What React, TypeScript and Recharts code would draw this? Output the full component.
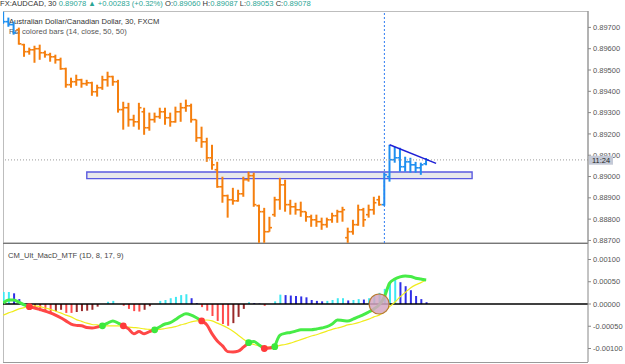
import React from 'react';
import {
  ComposedChart,
  Bar,
  Line,
  XAxis,
  YAxis,
  ReferenceLine,
  ReferenceArea,
  ReferenceDot,
  Cell,
} from 'recharts';

// ---------- DATA ----------
const opens = [
  0.89764, 0.89727, 0.89713, 0.89689, 0.89619, 0.89586, 0.89595, 0.89600, 0.89581, 0.89572,
  0.89562, 0.89548, 0.89506, 0.89431, 0.89445, 0.89454, 0.89436, 0.89440, 0.89398, 0.89417,
  0.89454, 0.89469, 0.89445, 0.89314, 0.89323, 0.89267, 0.89257, 0.89304, 0.89229, 0.89267,
  0.89281, 0.89304, 0.89276, 0.89257, 0.89304, 0.89323, 0.89332, 0.89267, 0.89182, 0.89163,
  0.89088, 0.89032, 0.88952, 0.88910, 0.88891, 0.88886, 0.88919, 0.88985, 0.89004, 0.88863,
  0.88835, 0.88741, 0.88821, 0.88891, 0.88961, 0.88868, 0.88858, 0.88844, 0.88835, 0.88811,
  0.88797, 0.88788, 0.88774, 0.88797, 0.88816, 0.88835, 0.88713, 0.88741, 0.88774, 0.88844,
  0.88821, 0.88844, 0.88891, 0.88868, 0.88999, 0.89079, 0.89088, 0.89046, 0.89069, 0.89055,
  0.89041, 0.89060,
];
const highs = [
  0.89774, 0.89746, 0.89727, 0.89699, 0.89623, 0.89605, 0.89614, 0.89619, 0.89591, 0.89581,
  0.89572, 0.89558, 0.89511, 0.89464, 0.89478, 0.89459, 0.89454, 0.89445, 0.89431, 0.89473,
  0.89492, 0.89473, 0.89454, 0.89351, 0.89346, 0.89290, 0.89346, 0.89323, 0.89300, 0.89300,
  0.89323, 0.89323, 0.89300, 0.89328, 0.89346, 0.89361, 0.89342, 0.89267, 0.89234, 0.89182,
  0.89149, 0.89069, 0.88999, 0.88915, 0.88947, 0.88938, 0.88999, 0.89023, 0.89018, 0.88868,
  0.88853, 0.88811, 0.88905, 0.88994, 0.88985, 0.88891, 0.88877, 0.88882, 0.88835, 0.88821,
  0.88821, 0.88807, 0.88807, 0.88830, 0.88844, 0.88858, 0.88760, 0.88797, 0.88868, 0.88853,
  0.88868, 0.88905, 0.88910, 0.89018, 0.89149, 0.89140, 0.89135, 0.89093, 0.89088, 0.89069,
  0.89065, 0.89087,
];
const lows = [
  0.89717, 0.89703, 0.89666, 0.89619, 0.89562, 0.89572, 0.89534, 0.89548, 0.89558, 0.89539,
  0.89530, 0.89501, 0.89417, 0.89417, 0.89426, 0.89417, 0.89426, 0.89379, 0.89375, 0.89407,
  0.89422, 0.89426, 0.89300, 0.89220, 0.89234, 0.89234, 0.89220, 0.89196, 0.89215, 0.89253,
  0.89271, 0.89243, 0.89234, 0.89253, 0.89257, 0.89304, 0.89253, 0.89163, 0.89135, 0.89069,
  0.89032, 0.88947, 0.88877, 0.88807, 0.88868, 0.88882, 0.88905, 0.88976, 0.88858, 0.88689,
  0.88689, 0.88741, 0.88811, 0.88844, 0.88835, 0.88821, 0.88821, 0.88811, 0.88788, 0.88764,
  0.88764, 0.88750, 0.88760, 0.88783, 0.88783, 0.88788, 0.88689, 0.88727, 0.88769, 0.88764,
  0.88807, 0.88821, 0.88863, 0.88863, 0.88976, 0.89065, 0.89023, 0.89023, 0.89018, 0.89018,
  0.89008, 0.89053,
];
const closes = [
  0.89727, 0.89713, 0.89675, 0.89623, 0.89586, 0.89595, 0.89600, 0.89581, 0.89572, 0.89562,
  0.89548, 0.89506, 0.89431, 0.89445, 0.89454, 0.89436, 0.89440, 0.89398, 0.89417, 0.89454,
  0.89469, 0.89445, 0.89314, 0.89323, 0.89267, 0.89257, 0.89323, 0.89229, 0.89267, 0.89281,
  0.89304, 0.89276, 0.89257, 0.89304, 0.89323, 0.89332, 0.89267, 0.89182, 0.89163, 0.89088,
  0.89055, 0.88952, 0.88910, 0.88891, 0.88886, 0.88919, 0.88985, 0.89004, 0.88868, 0.88835,
  0.88741, 0.88760, 0.88891, 0.88961, 0.88868, 0.88858, 0.88844, 0.88835, 0.88811, 0.88797,
  0.88788, 0.88774, 0.88797, 0.88816, 0.88835, 0.88844, 0.88741, 0.88774, 0.88844, 0.88797,
  0.88844, 0.88877, 0.88868, 0.89008, 0.89079, 0.89088, 0.89046, 0.89069, 0.89055, 0.89041,
  0.89055, 0.89078,
];
// bars drawn in the "RSI above 50" colour
const highRsiBars = [0, 1, 2, 73, 74, 75, 76, 77, 78, 79, 80, 81];
const priceTicks = [0.897, 0.896, 0.895, 0.894, 0.893, 0.892, 0.891, 0.89, 0.889, 0.888, 0.887];
const lastPrice = 0.89078;
const lastTime = '11:24';
const markerBar = 73;
const zoneBars = [16, 89.8];
const zonePrices = [0.8899, 0.89021];
const wedgeBars = [74, 82.9];
const wedgePrices = [0.89149, 0.89062];

const hist = [
  0.00027, 0.00027, 0.00024, 0.00011, -0.00002, -0.00007, -0.00011, -0.00016, -0.00018, -0.0002,
  -0.00016, -0.00013, -0.0002, -0.0002, -0.00018, -0.00016, -0.00015, -0.00013, -0.00006, 0,
  0.00005, 0.00007, 0, -0.00004, -0.00011, -0.00016, -0.00017, -0.00013, -0.00005, 0,
  0.00007, 0.00009, 0.00013, 0.00016, 0.0002, 0.00022, 0.00013, 0.00002, -0.00007, -0.00015,
  -0.00027, -0.00038, -0.00045, -0.00049, -0.00043, -0.00029, -0.00011, 0.00004, 0.00002, 0.00001,
  -0.00004, 0, 0.00006, 0.00021, 0.0002, 0.00019, 0.00018, 0.00017, 0.00015, 0.00009,
  0.00007, 0.00006, 0.00007, 0.00009, 0.00013, 0.00013, 0.00008, 0.00009, 0.00011, 0.0001,
  0.00013, 0.00018, 0.00025, 0.00034, 0.00049, 0.00056, 0.00049, 0.0004, 0.00031, 0.00018,
  0.00011, 0.00004,
];
const macd = [
  0.00002, 0.00009, 0.00009, 0.00004, -0.00002, -0.00006, -0.00009, -0.00012, -0.00016, -0.0002,
  -0.00025, -0.00031, -0.00038, -0.00045, -0.00048, -0.00049, -0.00053, -0.00054, -0.00052, -0.00049,
  -0.00043, -0.00038, -0.00043, -0.00049, -0.00056, -0.00067, -0.00062, -0.00067, -0.00062, -0.00058,
  -0.00051, -0.00045, -0.00042, -0.00035, -0.00027, -0.00022, -0.00025, -0.00031, -0.00038, -0.00047,
  -0.00067, -0.00083, -0.00094, -0.00107, -0.00108, -0.00106, -0.00097, -0.00087, -0.00084, -0.00092,
  -0.001, -0.00099, -0.00096, -0.0007, -0.00066, -0.00064, -0.00061, -0.00058, -0.00058, -0.00058,
  -0.00056, -0.00054, -0.00051, -0.00045, -0.00036, -0.00037, -0.00038, -0.00034, -0.00029, -0.00024,
  -0.00018, -0.00011, -0.00002, 0.00016, 0.00047, 0.00056, 0.00061, 0.00063, 0.00062, 0.00058,
  0.00056, 0.00054,
];
const signal = [
  -0.00025, -0.0002, -0.00016, -0.00011, -0.00008, -0.00006, -0.00004, -0.00006, -0.00009, -0.00012,
  -0.00016, -0.0002, -0.00025, -0.00029, -0.00035, -0.00039, -0.00043, -0.00046, -0.00047, -0.00049,
  -0.00049, -0.00049, -0.00049, -0.00051, -0.00052, -0.00053, -0.00054, -0.00056, -0.00057, -0.00058,
  -0.00057, -0.00055, -0.00053, -0.00051, -0.00047, -0.00044, -0.0004, -0.00038, -0.00037, -0.00036,
  -0.00038, -0.00043, -0.00048, -0.00054, -0.00061, -0.0007, -0.00079, -0.00087, -0.00091, -0.00094,
  -0.00097, -0.00097, -0.00096, -0.00093, -0.00091, -0.00088, -0.00084, -0.0008, -0.00076, -0.00072,
  -0.00069, -0.00065, -0.00061, -0.00057, -0.00054, -0.00051, -0.00047, -0.00045, -0.00042, -0.00038,
  -0.00034, -0.00029, -0.00025, -0.00017, -0.00006, 0.00004, 0.00016, 0.00026, 0.00036, 0.00043,
  0.00048, 0.00054,
];
const crossUp = [19, 29, 47, 52];
const crossDown = [5, 23, 38, 50];
const macdTicks = [0.001, 0.0005, 0, -0.0005, -0.001];
const circledBar = 72;

// ---------- STYLE ----------
const FONT = '"Liberation Sans", Arial, sans-serif';
const ORANGE = '#f57f0e';
const BLUE = '#1e8ff0';
const TEAL = '#2aa594';
const X_DOMAIN: [number, number] = [-0.05, 112];
const PRICE_DOMAIN: [number, number] = [0.88688, 0.89777];
const GREEN_LINE = '#47ec47';
const RED_LINE = '#ff4747';

// ---------- DERIVED ROWS ----------
const ohlcData = opens.map((o, i) => ({
  i,
  o,
  h: highs[i],
  l: lows[i],
  c: closes[i],
  range: [lows[i], highs[i]],
  hiRsi: highRsiBars.includes(i),
}));

const events = [
  ...crossUp.map((c) => ({ c, s: 'up' })),
  ...crossDown.map((c) => ({ c, s: 'dn' })),
].sort((a, b) => a.c - b.c);
const stateAt = (j: number) => {
  let s = 'up';
  for (const e of events) if (e.c <= j) s = e.s;
  return s;
};

const histColor = (j: number) => {
  const v = hist[j];
  const prev = j > 0 ? hist[j - 1] : v;
  if (v >= 0) return v >= prev ? '#3ee8f2' : '#2f2fe6';
  return v <= prev ? '#ff4a4a' : '#9a2a2a';
};

const macdData = hist.map((h, i) => {
  const s0 = stateAt(i);
  const s1 = i > 0 ? stateAt(i - 1) : s0;
  return {
    i,
    hist: h,
    macd: macd[i],
    sig: signal[i],
    up: s0 === 'up' || s1 === 'up' ? macd[i] : null,
    dn: s0 === 'dn' || s1 === 'dn' ? macd[i] : null,
  };
});

// ---------- SHAPES ----------
const OhlcShape = (props: any) => {
  const { x, y, width, height, payload } = props;
  if (x == null || y == null || !payload) return <g />;
  const top = Math.min(y, y + height);
  const bot = Math.max(y, y + height);
  const span = payload.h - payload.l || 1e-9;
  const yo = top + ((payload.h - payload.o) / span) * (bot - top);
  const yc = top + ((payload.h - payload.c) / span) * (bot - top);
  const cx = x + width / 2;
  const col = payload.hiRsi ? BLUE : ORANGE;
  return (
    <g>
      <line x1={cx} x2={cx} y1={top} y2={bot} stroke={col} strokeWidth={2} />
      <line x1={cx - 2.6} x2={cx} y1={yo} y2={yo} stroke={col} strokeWidth={1.6} />
      <line x1={cx} x2={cx + 2.6} y1={yc} y2={yc} stroke={col} strokeWidth={1.6} />
    </g>
  );
};

const PriceTag = (props: any) => {
  const vb = props.viewBox || {};
  const x = (vb.x ?? 0) + (vb.width ?? 0);
  const y = vb.y ?? 0;
  return (
    <g>
      <rect x={x + 1} y={y - 4.2} width={24} height={9} fill="#c4c9d6" />
      <text x={x + 4} y={y + 2.7} fontSize={7.5} fill="#1d1d1d" fontFamily={FONT}>
        {lastTime}
      </text>
    </g>
  );
};

const CrossDot = (props: any) => {
  const { cx, cy, index } = props;
  const k = `cd-${index}`;
  if (cx == null || cy == null) return <g key={k} />;
  if (crossUp.includes(index)) return <circle key={k} cx={cx} cy={cy} r={3.4} fill="#3ce83c" />;
  if (crossDown.includes(index)) return <circle key={k} cx={cx} cy={cy} r={3.4} fill="#ff3a3a" />;
  return <g key={k} />;
};

const tickStyle = { fontSize: 7.5, fill: '#555', fontFamily: FONT };

export default function App() {
  return (
    <div
      style={{
        position: 'absolute',
        left: 0,
        top: 0,
        width: 625,
        height: 364,
        background: '#ffffff',
        overflow: 'hidden',
        fontFamily: FONT,
      }}
    >
      <svg width={625} height={364} style={{ position: 'absolute', left: 0, top: 0 }}>
        <rect x={3.5} y={11.5} width={584.5} height={231.5} fill="none" stroke="#bdbdbd" strokeWidth={1} />
        <line x1={3.5} x2={3.5} y1={243} y2={362.5} stroke="#bdbdbd" strokeWidth={1} />
        <line x1={3} x2={588} y1={362.5} y2={362.5} stroke="#9a9a9a" strokeWidth={1} />
        <line x1={3} x2={588} y1={243.3} y2={243.3} stroke="#777" strokeWidth={1.2} />
        <text x={0} y={5.5} fontSize={7.6} fontFamily={FONT} fill="#333">
          <tspan>FX:AUDCAD, 30 </tspan>
          <tspan fill={TEAL}>0.89078 ▲ +0.00283 (+0.32%) </tspan>
          <tspan>O:</tspan>
          <tspan fill={TEAL}>0.89060 </tspan>
          <tspan>H:</tspan>
          <tspan fill={TEAL}>0.89087 </tspan>
          <tspan>L:</tspan>
          <tspan fill={TEAL}>0.89053 </tspan>
          <tspan>C:</tspan>
          <tspan fill={TEAL}>0.89078</tspan>
        </text>
        <text x={9} y={24} fontSize={7.6} fontFamily={FONT} fill="#333">
          Australian Dollar/Canadian Dollar, 30, FXCM
        </text>
        <text x={9} y={34.3} fontSize={7.6} fontFamily={FONT} fill="#555">
          Rsi colored bars (14, close, 50, 50)
        </text>
        <text x={8} y={258} fontSize={7.6} fontFamily={FONT} fill="#444">
          CM_Ult_MacD_MTF (1D, 8, 17, 9)
        </text>
      </svg>

      <div style={{ position: 'absolute', left: 0, top: 0 }}>
        <ComposedChart
          width={625}
          height={244}
          data={ohlcData}
          margin={{ top: 11, right: 0, bottom: 1, left: 3 }}
        >
          <XAxis type="number" dataKey="i" domain={X_DOMAIN} allowDataOverflow hide />
          <YAxis
            orientation="right"
            width={37}
            domain={PRICE_DOMAIN}
            allowDataOverflow
            ticks={priceTicks}
            interval={0}
            tickFormatter={(v: number) => v.toFixed(5)}
            tick={tickStyle}
            tickSize={3}
            tickMargin={2}
            tickLine={{ stroke: '#888' }}
            axisLine={{ stroke: '#888' }}
          />
          <ReferenceArea
            x1={zoneBars[0]}
            x2={zoneBars[1]}
            y1={zonePrices[0]}
            y2={zonePrices[1]}
            fill="#e4e4e8"
            fillOpacity={0.85}
            stroke="#5a5ae0"
            strokeWidth={1.4}
          />
          <ReferenceLine y={lastPrice} stroke="#9a9a9a" strokeDasharray="1 2" />
          <ReferenceLine x={markerBar} stroke="#2f7df2" strokeDasharray="2 2" strokeWidth={1} />
          <Bar dataKey="range" barSize={5} shape={OhlcShape} isAnimationActive={false} />
          <ReferenceLine
            segment={[
              { x: wedgeBars[0], y: wedgePrices[0] },
              { x: wedgeBars[1], y: wedgePrices[1] },
            ]}
            stroke="#1f1fd6"
            strokeWidth={1.5}
          />
        </ComposedChart>
      </div>

      {/* overlay layer: last-price tag drawn above the axis labels */}
      <div style={{ position: 'absolute', left: 0, top: 0, pointerEvents: 'none' }}>
        <ComposedChart
          width={625}
          height={244}
          data={ohlcData}
          margin={{ top: 11, right: 37, bottom: 1, left: 3 }}
        >
          <XAxis type="number" dataKey="i" domain={X_DOMAIN} allowDataOverflow hide />
          <YAxis hide domain={PRICE_DOMAIN} allowDataOverflow />
          <ReferenceLine y={lastPrice} stroke="none" label={PriceTag} />
        </ComposedChart>
      </div>

      <div style={{ position: 'absolute', left: 0, top: 243 }}>
        <ComposedChart
          width={625}
          height={121}
          data={macdData}
          margin={{ top: 0, right: 0, bottom: 2, left: 3 }}
        >
          <XAxis type="number" dataKey="i" domain={X_DOMAIN} allowDataOverflow hide />
          <YAxis
            orientation="right"
            width={37}
            domain={[-0.0013034, 0.0013708]}
            allowDataOverflow
            ticks={macdTicks}
            interval={0}
            tickFormatter={(v: number) => v.toFixed(5)}
            tick={tickStyle}
            tickSize={3}
            tickMargin={2}
            tickLine={{ stroke: '#888' }}
            axisLine={{ stroke: '#888' }}
          />
          <Bar dataKey="hist" barSize={2} isAnimationActive={false}>
            {macdData.map((d) => (
              <Cell key={d.i} fill={histColor(d.i)} />
            ))}
          </Bar>
          <ReferenceLine y={0} stroke="#000" strokeWidth={1.5} />
          <Line
            dataKey="sig"
            type="monotone"
            stroke="#f0ec1e"
            strokeWidth={1.2}
            dot={false}
            activeDot={false}
            isAnimationActive={false}
          />
          <Line
            dataKey="up"
            type="monotone"
            stroke={GREEN_LINE}
            strokeWidth={3}
            dot={false}
            activeDot={false}
            connectNulls={false}
            isAnimationActive={false}
          />
          <Line
            dataKey="dn"
            type="monotone"
            stroke={RED_LINE}
            strokeWidth={3}
            dot={false}
            activeDot={false}
            connectNulls={false}
            isAnimationActive={false}
          />
          <Line
            dataKey="macd"
            stroke="none"
            dot={CrossDot}
            activeDot={false}
            isAnimationActive={false}
          />
          <ReferenceDot
            x={circledBar}
            y={0}
            r={10}
            fill="#d5a6c2"
            fillOpacity={0.85}
            stroke="#b77a30"
            strokeWidth={1.2}
          />
        </ComposedChart>
      </div>
    </div>
  );
}
